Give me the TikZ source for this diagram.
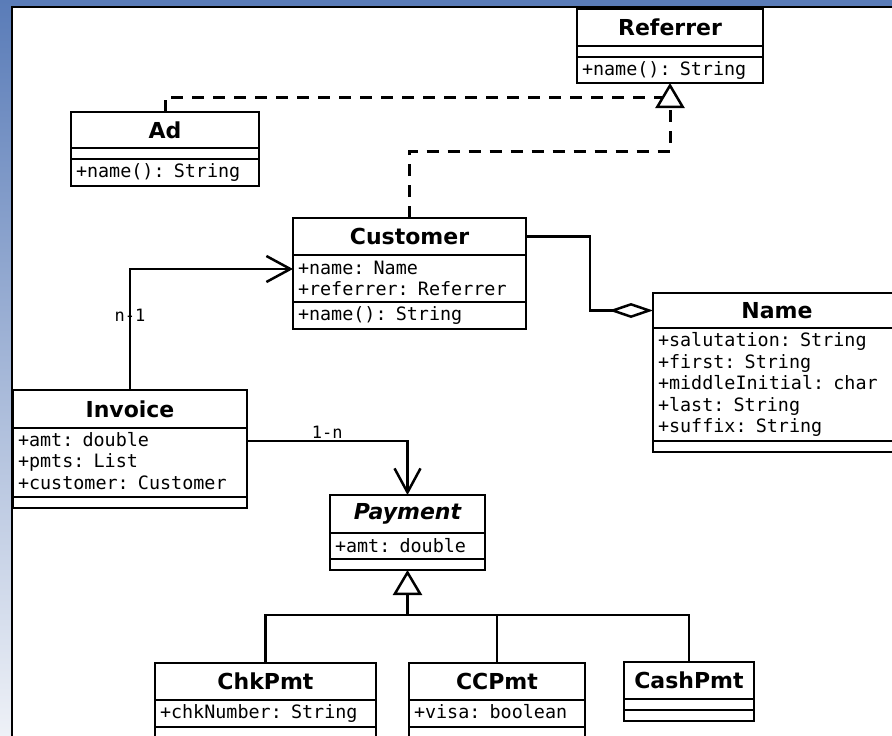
\documentclass[tikz,border=0pt]{standalone}
\usepackage{fontspec}
\setmainfont{DejaVu Sans}
\setmonofont{DejaVu Sans Mono}
\usetikzlibrary{positioning,arrows.meta}
\definecolor{framebar}{RGB}{90,124,184}
\definecolor{framefade}{RGB}{238,241,247}

\begin{document}
\begin{tikzpicture}[
    x=1pt, y=-1pt,
    umlbox/.style={rectangle, draw, line width=2.5pt, outer sep=0pt, inner xsep=5pt, inner ysep=0pt, fill=white},
    umltitle/.style={umlbox, align=center, font=\fontsize{22}{26}\selectfont\bfseries},
    umlpart/.style={umlbox, align=left, font=\fontsize{18.4}{21.5}\selectfont\ttfamily},
    assoc/.style={line width=2.5pt, -{Straight Barb[length=24pt, width=26pt]}},
    aggr/.style={line width=2.5pt, -{Diamond[length=44pt, width=15pt, fill=white]}},
    realize/.style={line width=3pt, dash pattern=on 12pt off 9pt},
    inherit/.style={line width=2.5pt},
    hollow/.style={-{Triangle[length=25pt, width=29pt, fill=white, line width=2.5pt]}},
    mult/.style={font=\fontsize{17}{20}\selectfont\ttfamily, inner sep=1pt}
  ]
  \useasboundingbox (0,0) rectangle (892,736);
  \clip (0,0) rectangle (892,736);

  % window frame
  \fill[white] (12,7) rectangle (892,736);
  \fill[framebar] (0,0) rectangle (892,7);
  \shade[top color=framebar, bottom color=framefade] (0,0) rectangle (12,736);
  \draw[line width=2.5pt] (12,740) -- (12,7) -- (895,7);

  % Referrer
  \node[umltitle, text width=176pt, minimum height=37pt] (referrer-t) at (670,27.5) {Referrer};
  \node[umlpart, text width=176pt, minimum height=11pt, below=0pt of referrer-t] (referrer-a) {};
  \node[umlpart, text width=176pt, minimum height=26pt, below=0pt of referrer-a] (referrer-m) {+name(): String};

  % Ad
  \node[umltitle, text width=178pt, minimum height=36pt] (ad-t) at (165,130) {Ad};
  \node[umlpart, text width=178pt, minimum height=11pt, below=0pt of ad-t] (ad-a) {};
  \node[umlpart, text width=178pt, minimum height=27pt, below=0pt of ad-a] (ad-m) {+name(): String};

  % Customer
  \node[umltitle, text width=223pt, minimum height=37pt] (customer-t) at (409.5,236.5) {Customer};
  \node[umlpart, text width=223pt, minimum height=47pt, below=0pt of customer-t] (customer-a) {+name: Name\\+referrer: Referrer};
  \node[umlpart, text width=223pt, minimum height=27pt, below=0pt of customer-a] (customer-m) {+name(): String};

  % Name
  \node[umltitle, text width=238pt, minimum height=35pt] (name-t) at (777,310.5) {Name};
  \node[umlpart, text width=238pt, minimum height=113pt, below=0pt of name-t] (name-a) {+salutation: String\\+first: String\\+middleInitial: char\\+last: String\\+suffix: String};
  \node[umlpart, text width=238pt, minimum height=11pt, below=0pt of name-a] (name-m) {};

  % Invoice
  \node[umltitle, text width=224pt, minimum height=38pt] (invoice-t) at (130,409) {Invoice};
  \node[umlpart, text width=224pt, minimum height=69pt, below=0pt of invoice-t] (invoice-a) {+amt: double\\+pmts: List\\+customer: Customer\vphantom{g}};
  \node[umlpart, text width=224pt, minimum height=11pt, below=0pt of invoice-a] (invoice-m) {};

  % Payment
  \node[umltitle, text width=145pt, minimum height=38pt] (payment-t) at (407.5,514) {\itshape Payment};
  \node[umlpart, text width=145pt, minimum height=26pt, below=0pt of payment-t] (payment-a) {+amt: double};
  \node[umlpart, text width=145pt, minimum height=11pt, below=0pt of payment-a] (payment-m) {};

  % payment kinds
  \node[umltitle, text width=211pt, minimum height=37pt] (chkpmt-t) at (265.5,681.5) {ChkPmt};
  \node[umlpart, text width=211pt, minimum height=27pt, below=0pt of chkpmt-t] (chkpmt-a) {+chkNumber: String};
  \node[umlpart, text width=211pt, minimum height=30pt, below=0pt of chkpmt-a] (chkpmt-m) {};

  \node[umltitle, text width=166pt, minimum height=37pt] (ccpmt-t) at (497,681.5) {CCPmt};
  \node[umlpart, text width=166pt, minimum height=27pt, below=0pt of ccpmt-t] (ccpmt-a) {+visa: boolean\vphantom{g}};
  \node[umlpart, text width=166pt, minimum height=30pt, below=0pt of ccpmt-a] (ccpmt-m) {};

  \node[umltitle, text width=120pt, minimum height=37pt] (cashpmt-t) at (689,680.5) {CashPmt};
  \node[umlpart, text width=120pt, minimum height=11pt, below=0pt of cashpmt-t] (cashpmt-a) {};
  \node[umlpart, text width=120pt, minimum height=11pt, below=0pt of cashpmt-a] (cashpmt-m) {};

  % realizations of Referrer
  \coordinate (adjoin) at (663,97);
  \draw[realize] (ad-t.north) |- (adjoin);
  \draw[realize, hollow] (customer-t.north) -- ++(0,-67) -| (referrer-m.south);

  % associations
  \draw[assoc] (invoice-t.north) |- node[mult, pos=0.31] {n-1} ([yshift=-14pt]customer-a.north west);
  \draw[assoc] ([yshift=-13pt]invoice-a.north east) -| node[mult, above, pos=0.25] {1-n} (payment-t.north);
  \draw[aggr] (customer-t.east) -- ++(64,0) |- (name-t.west);

  % subclasses of Payment
  \coordinate (pmtjoin) at (407.5,615);
  \draw[inherit, hollow] (pmtjoin) -- (payment-m.south);
  \draw[inherit] (chkpmt-t.north) |- (cashpmt-t.north |- pmtjoin) -- (cashpmt-t.north);
  \draw[inherit] (ccpmt-t.north) -- (ccpmt-t.north |- pmtjoin);
\end{tikzpicture}
\end{document}
